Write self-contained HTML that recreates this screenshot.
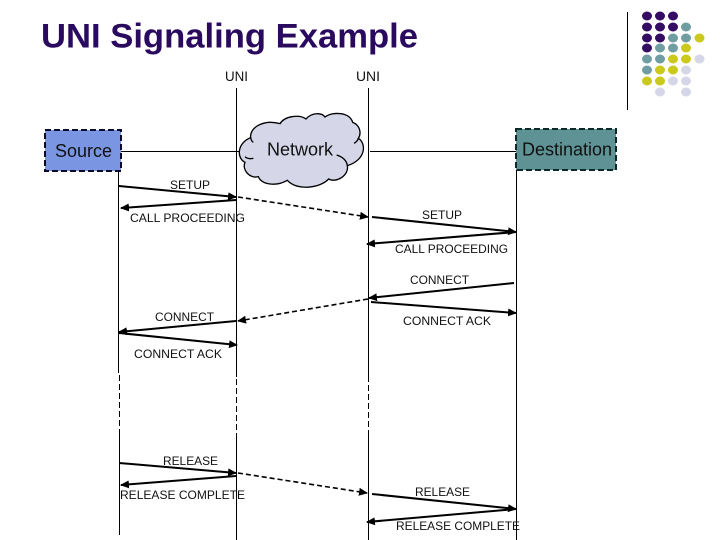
<!DOCTYPE html>
<html>
<head>
<meta charset="utf-8">
<style>
html,body{margin:0;padding:0;background:#fff;width:720px;height:540px;overflow:hidden}
svg{display:block}
text{font-family:"Liberation Sans",Arial,sans-serif;fill:#111}
.l{font-size:12px}
.n{font-size:18px}
.a{stroke:#000;stroke-width:2;fill:none}
.d{stroke:#000;stroke-width:1.6;fill:none;stroke-dasharray:5 3}
.v{stroke:#000;stroke-width:1;fill:none}
.vd{stroke:#000;stroke-width:1;fill:none;stroke-dasharray:6 3}
</style>
</head>
<body>
<svg width="720" height="540" viewBox="0 0 720 540" xmlns="http://www.w3.org/2000/svg">
<defs>
<marker id="h" markerUnits="userSpaceOnUse" markerWidth="9" markerHeight="8" refX="8" refY="4" orient="auto"><path d="M0 0L9 4L0 8Z" fill="#000"/></marker>
</defs>
<rect width="720" height="540" fill="#fff"/>
<text x="41" y="47.500" font-size="34" font-weight="bold" textLength="377" lengthAdjust="spacingAndGlyphs" style="fill:#2a0a5e">UNI Signaling Example</text>

<!-- decoration -->
<path d="M627.5 12V110" stroke="#000" stroke-width="1"/>
<g fill="#340c63">
<ellipse cx="647" cy="16" rx="5" ry="4.5"/><ellipse cx="660" cy="16" rx="5" ry="4.5"/><ellipse cx="673" cy="16" rx="5" ry="4.5"/>
<ellipse cx="647" cy="27" rx="5" ry="4.5"/><ellipse cx="660" cy="27" rx="5" ry="4.5"/><ellipse cx="673" cy="27" rx="5" ry="4.5"/>
<ellipse cx="647" cy="38" rx="5" ry="4.5"/><ellipse cx="660" cy="38" rx="5" ry="4.5"/>
<ellipse cx="647" cy="48" rx="5" ry="4.5"/>
</g>
<g fill="#6f9da2">
<ellipse cx="686" cy="27" rx="5" ry="4.5"/>
<ellipse cx="673" cy="38" rx="5" ry="4.5"/><ellipse cx="686" cy="38" rx="5" ry="4.5"/>
<ellipse cx="660" cy="48" rx="5" ry="4.5"/><ellipse cx="673" cy="48" rx="5" ry="4.5"/>
<ellipse cx="647" cy="59" rx="5" ry="4.5"/><ellipse cx="660" cy="59" rx="5" ry="4.5"/>
<ellipse cx="647" cy="70" rx="5" ry="4.5"/>
</g>
<g fill="#cbc91c">
<ellipse cx="699.500" cy="38" rx="5" ry="4.5"/>
<ellipse cx="686" cy="48" rx="5" ry="4.5"/>
<ellipse cx="673" cy="59" rx="5" ry="4.5"/><ellipse cx="686" cy="59" rx="5" ry="4.5"/>
<ellipse cx="660" cy="70" rx="5" ry="4.5"/><ellipse cx="673" cy="70" rx="5" ry="4.5"/>
<ellipse cx="647" cy="81" rx="5" ry="4.5"/><ellipse cx="660" cy="81" rx="5" ry="4.5"/>
</g>
<g fill="#d5d6e8">
<ellipse cx="699.500" cy="59" rx="5" ry="4.5"/>
<ellipse cx="686" cy="70" rx="5" ry="4.5"/>
<ellipse cx="673" cy="81" rx="5" ry="4.5"/><ellipse cx="686" cy="81" rx="5" ry="4.5"/>
<ellipse cx="660" cy="92" rx="5" ry="4.5"/><ellipse cx="686" cy="92" rx="5" ry="4.5"/>
</g>

<!-- lifelines -->
<path class="v" d="M118.500 171V373M119.500 433V535"/>
<path class="vd" d="M119.500 375V433"/>
<path class="v" d="M236.500 88V377M236.500 433V540"/>
<path class="vd" d="M236.500 379V433"/>
<path class="v" d="M368.500 88V382M368.500 433V540"/>
<path class="vd" d="M368.500 385V433"/>
<path class="v" d="M516.500 170V540"/>

<!-- horizontal links -->
<path class="v" d="M121 151.500H240M370 151.500H516"/>

<!-- cloud -->
<g transform="translate(230 105) scale(.3333)" stroke="#000" stroke-width="4">
<path d="M62 98C58 68 100 42 150 56C165 32 210 28 228 42C245 22 275 22 285 36C310 18 360 22 368 52C390 60 395 85 385 100C410 115 408 165 352 182C358 210 320 235 296 222C270 250 200 258 172 226C140 245 95 240 85 215C60 222 35 195 45 172C20 160 20 115 62 98Z" fill="#d5d6e8"/>
<path d="M45 155C50 160 60 162 70 160M62 98C63 104 66 110 70 112M320 150C335 155 350 165 352 182M385 100C383 108 378 112 372 115" fill="none"/>
</g>

<!-- boxes -->
<rect x="45" y="130" width="76" height="41" fill="#7a96e2" stroke="#0a0a2a" stroke-width="2" stroke-dasharray="6 3"/>
<rect x="516" y="129" width="100" height="41" fill="#5f9294" stroke="#0a2a2a" stroke-width="2" stroke-dasharray="6 3"/>

<!-- arrows -->
<path class="a" d="M119 186L236 197" marker-end="url(#h)"/>
<path class="a" d="M236 200L121 208" marker-end="url(#h)"/>
<path class="d" d="M238 197L368 217" marker-end="url(#h)"/>
<path class="a" d="M372 217L516 232" marker-end="url(#h)"/>
<path class="a" d="M516 232L367 244" marker-end="url(#h)"/>
<path class="a" d="M514 283L369 298" marker-end="url(#h)"/>
<path class="a" d="M371 302L516 313" marker-end="url(#h)"/>
<path class="d" d="M368 299L238 321" marker-end="url(#h)"/>
<path class="a" d="M236 321L119 332" marker-end="url(#h)"/>
<path class="a" d="M119 333L237 345" marker-end="url(#h)"/>
<path class="a" d="M119 463L236 473" marker-end="url(#h)"/>
<path class="a" d="M236 476L121 485" marker-end="url(#h)"/>
<path class="d" d="M238 473L367 493" marker-end="url(#h)"/>
<path class="a" d="M372 494L516 509" marker-end="url(#h)"/>
<path class="a" d="M516 509L367 522" marker-end="url(#h)"/>

<!-- labels -->
<text x="225" y="81" font-size="14" textLength="23" lengthAdjust="spacingAndGlyphs">UNI</text>
<text x="356" y="81" font-size="14" textLength="24" lengthAdjust="spacingAndGlyphs">UNI</text>
<text class="n" x="55" y="157" textLength="57" lengthAdjust="spacingAndGlyphs">Source</text>
<text class="n" x="267" y="155.500" textLength="66" lengthAdjust="spacingAndGlyphs">Network</text>
<text class="n" x="522" y="155.500" textLength="90" lengthAdjust="spacingAndGlyphs">Destination</text>
<text class="l" x="170" y="189" textLength="40" lengthAdjust="spacingAndGlyphs">SETUP</text>
<text class="l" x="130" y="222" textLength="115" lengthAdjust="spacingAndGlyphs">CALL PROCEEDING</text>
<text class="l" x="422" y="219" textLength="40" lengthAdjust="spacingAndGlyphs">SETUP</text>
<text class="l" x="395" y="253" textLength="113" lengthAdjust="spacingAndGlyphs">CALL PROCEEDING</text>
<text class="l" x="410" y="284" textLength="59" lengthAdjust="spacingAndGlyphs">CONNECT</text>
<text class="l" x="155" y="321" textLength="59" lengthAdjust="spacingAndGlyphs">CONNECT</text>
<text class="l" x="403" y="325" textLength="88" lengthAdjust="spacingAndGlyphs">CONNECT ACK</text>
<text class="l" x="134" y="358" textLength="88" lengthAdjust="spacingAndGlyphs">CONNECT ACK</text>
<text class="l" x="163" y="465" textLength="55" lengthAdjust="spacingAndGlyphs">RELEASE</text>
<text class="l" x="120" y="499" textLength="125" lengthAdjust="spacingAndGlyphs">RELEASE COMPLETE</text>
<text class="l" x="415" y="496" textLength="55" lengthAdjust="spacingAndGlyphs">RELEASE</text>
<text class="l" x="396" y="530" textLength="124" lengthAdjust="spacingAndGlyphs">RELEASE COMPLETE</text>
</svg>
</body>
</html>
